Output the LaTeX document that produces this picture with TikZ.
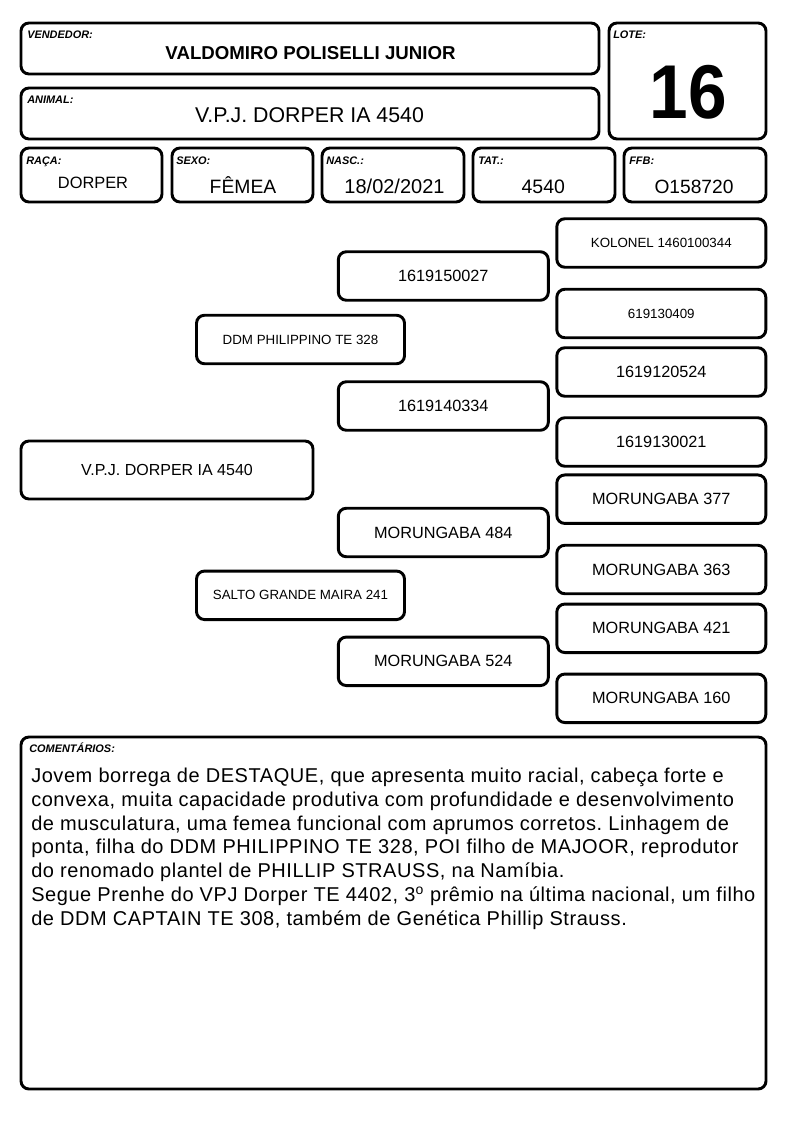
\documentclass[tikz,border=0pt]{standalone}
\usepackage{graphicx}
\usepackage{fontspec}
\setmainfont{Liberation Sans}
\newcommand{\tam}[1]{\fontsize{#1}{#1}\selectfont}
\frenchspacing

\begin{document}
\begin{tikzpicture}[x=0.75pt, y=-0.75pt,
  moldura/.style={draw, line width=2.2pt, rounded corners=6pt},
  rotulo/.style={anchor=base west, inner sep=0pt, font=\tam{8.2}\bfseries\itshape},
  valor/.style={anchor=base, inner sep=0pt},
  caixa/.style={moldura, inner sep=0pt, minimum height=48.5*0.75pt},
  pequeno/.style={font=\tam{10}},
  medio/.style={font=\tam{12.2}}]
  \useasboundingbox (0, 0) rectangle (794, 1123);

  % cabecalho
  \draw [moldura] (21, 23) rectangle (599, 74);
  \draw [moldura] (21, 88) rectangle (599, 139);
  \draw [moldura] (609, 23) rectangle (766, 139);
  \draw [moldura] (21, 148) rectangle (162, 202);
  \draw [moldura] (172, 148) rectangle (313, 202);
  \draw [moldura] (322, 148) rectangle (464, 202);
  \draw [moldura] (473, 148) rectangle (615, 202);
  \draw [moldura] (624, 148) rectangle (766, 202);
  \node [rotulo] (lvendedor) at (27, 39) {VENDEDOR:};
  \node [rotulo] (lanimal) at (27, 104) {ANIMAL:};
  \node [rotulo] (llote) at (613, 39) {LOTE:};
  \node [rotulo] (lraca) at (26, 164.5) {RAÇA:};
  \node [rotulo] (lsexo) at (176, 164.5) {SEXO:};
  \node [rotulo] (lnasc) at (326, 164.5) {NASC.:};
  \node [rotulo] (ltat) at (478, 164.5) {TAT.:};
  \node [rotulo] (lffb) at (629, 164.5) {FFB:};
  \node [valor, font=\tam{14}\bfseries] (vendedor) at (310.5, 60) {VALDOMIRO POLISELLI JUNIOR};
  \node [valor, font=\tam{16}] (animal) at (309.5, 122.3) {V.P.J. DORPER IA 4540};
  \node [valor, font=\tam{52}\bfseries] (lote) at (688, 119) {\scalebox{1}[1.1]{16}};
  \node [valor, font=\tam{12.3}] (raca) at (93, 188.3) {DORPER};
  \node [valor, font=\tam{14.5}] (sexo) at (243, 193.3) {FÊMEA};
  \node [valor, font=\tam{15}] (nasc) at (394.5, 193.3) {18/02/2021};
  \node [valor, font=\tam{14.6}] (tat) at (543.3, 193.3) {4540};
  \node [valor, font=\tam{14.4}] (ffb) at (694, 193.3) {O158720};

  % genealogia
  \node [caixa, font=\tam{12}, minimum width=292*0.75pt, minimum height=58*0.75pt] (filho) at (167, 470) {V.P.J. DORPER IA 4540};
  \node [caixa, pequeno, minimum width=208*0.75pt] (pai) at (300.5, 339.5) {DDM PHILIPPINO TE 328};
  \node [caixa, pequeno, minimum width=208*0.75pt] (mae) at (300.5, 595.3) {SALTO GRANDE MAIRA 241};
  \node [caixa, medio, minimum width=210*0.75pt] (avo1) at (443.3, 276) {1619150027};
  \node [caixa, medio, minimum width=210*0.75pt] (avo2) at (443.3, 406) {1619140334};
  \node [caixa, medio, minimum width=210*0.75pt] (avo3) at (443.3, 532.5) {MORUNGABA 484};
  \node [caixa, medio, minimum width=210*0.75pt] (avo4) at (443.3, 661.3) {MORUNGABA 524};
  \node [caixa, pequeno, minimum width=209*0.75pt] (bis1) at (661.3, 243) {KOLONEL 1460100344};
  \node [caixa, pequeno, minimum width=209*0.75pt] (bis2) at (661.3, 313.5) {619130409};
  \node [caixa, medio, minimum width=209*0.75pt] (bis3) at (661.3, 372) {1619120524};
  \node [caixa, medio, minimum width=209*0.75pt] (bis4) at (661.3, 442) {1619130021};
  \node [caixa, medio, minimum width=209*0.75pt] (bis5) at (661.3, 499.2) {MORUNGABA 377};
  \node [caixa, medio, minimum width=209*0.75pt] (bis6) at (661.3, 569.5) {MORUNGABA 363};
  \node [caixa, medio, minimum width=209*0.75pt] (bis7) at (661.3, 628.3) {MORUNGABA 421};
  \node [caixa, medio, minimum width=209*0.75pt] (bis8) at (661.3, 698.3) {MORUNGABA 160};

  % comentarios
  \draw [moldura] (21, 737) rectangle (766, 1089);
  \node [rotulo] (lcoment) at (29, 752.7) {COMENTÁRIOS:};
  \node [anchor=north west, inner sep=0pt, align=left, font=\fontsize{15}{17.9}\selectfont\addfontfeature{LetterSpace=2.8}] (coment) at (31, 767.5)
    {Jovem borrega de DESTAQUE, que apresenta muito racial, cabeça forte e\\
     convexa, muita capacidade produtiva com profundidade e desenvolvimento\\
     de musculatura, uma femea funcional com aprumos corretos. Linhagem de\\
     ponta, filha do DDM PHILIPPINO TE 328, POI filho de MAJOOR, reprodutor\\
     do renomado plantel de PHILLIP STRAUSS, na Namíbia.\\
     Segue Prenhe do VPJ Dorper TE 4402, 3\textsuperscript{o} prêmio na última nacional, um filho\\
     de DDM CAPTAIN TE 308, também de Genética Phillip Strauss.};
\end{tikzpicture}
\end{document}
